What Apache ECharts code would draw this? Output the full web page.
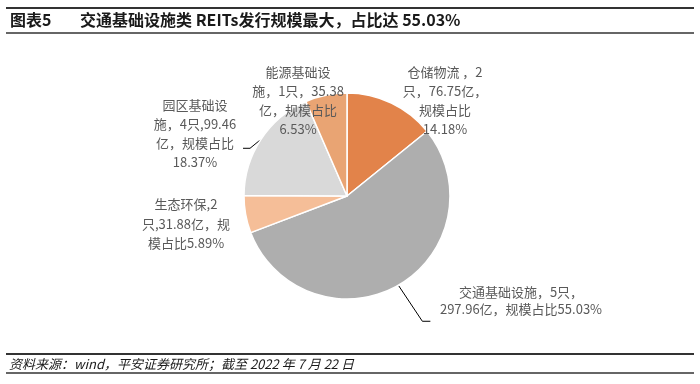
<!DOCTYPE html>
<html>
<head>
<meta charset="utf-8">
<script src="https://cdn.jsdelivr.net/npm/echarts@6/dist/echarts.min.js"></script>
<style>
html,body{margin:0;padding:0;background:#fff;}
#c{width:700px;height:384px;}
</style>
</head>
<body>
<div id="c"></div>
<script>
// ---- data ----
var categories = ['仓储物流', '交通基础设施', '生态环保', '园区基础设施', '能源基础设施'];
var counts = [2, 5, 2, 4, 1];
var values = [76.75, 297.96, 31.88, 99.46, 35.38];
var shares = ['14.18%', '55.03%', '5.89%', '18.37%', '6.53%'];
var labelTexts = [
  '仓储物流 ，2\n只，76.75亿，\n规模占比\n14.18%',
  '交通基础设施，5只，\n297.96亿，规模占比55.03%',
  '生态环保,2\n只,31.88亿，规\n模占比5.89%',
  '园区基础设\n施，4只,99.46\n亿，规模占比\n18.37%',
  '能源基础设\n施，1只，35.38\n亿，规模占比\n6.53%'
];
var titleText = '图表5';
var titleMain = '交通基础设施类 REITs发行规模最大，占比达 55.03%';
var sourceText = '资料来源：wind，平安证券研究所；截至 2022 年 7 月 22 日';

// ---- styles / layout ----
var colors = ['#E2834A', '#AEAEAE', '#F5BE98', '#D9D9D9', '#E9A473'];
var showLine = [false, true, false, true, false];
var labelPos = [
  {x: 445, y: 101, lh: 19},
  {x: 521, y: 301, lh: 17},
  {x: 186, y: 224, lh: 19.5},
  {x: 195, y: 134, lh: 19},
  {x: 298, y: 101, lh: 19}
];
var CX = 347, CY = 196, R = 103;

var total = values.reduce(function(a, b){ return a + b; }, 0);
function edgePoint(idx) {
  var before = 0;
  for (var i = 0; i < idx; i++) before += values[i];
  var mid = (before + values[idx] / 2) / total * Math.PI * 2;
  return [CX + R * Math.sin(mid), CY - R * Math.cos(mid)];
}

var data = categories.map(function(n, i){
  return {
    name: n,
    value: values[i],
    itemStyle: {color: colors[i]},
    label: {lineHeight: labelPos[i].lh},
    labelLine: {show: showLine[i]}
  };
});

var chart = echarts.init(document.getElementById('c'), null, {renderer: 'canvas'});
chart.setOption({
  animation: false,
  backgroundColor: '#fff',
  title: [
    {text: titleText, left: 10, top: 10, padding: 0, textStyle: {fontFamily: 'Noto Sans CJK SC', fontSize: 16, fontWeight: 'bold', color: '#1a1a1a', lineHeight: 20}},
    {text: titleMain, left: 80, top: 10, padding: 0, textStyle: {fontFamily: 'Noto Sans CJK SC', fontSize: 16, fontWeight: 'bold', color: '#1a1a1a', lineHeight: 20}},
    {text: sourceText, left: 9, top: 355, padding: 0, textStyle: {fontFamily: 'Noto Sans CJK SC', fontSize: 13, fontWeight: 'normal', fontStyle: 'italic', color: '#1a1a1a', lineHeight: 18}}
  ],
  graphic: [
    {type: 'line', shape: {x1: 6, y1: 8, x2: 694, y2: 8}, style: {stroke: '#333', lineWidth: 2}},
    {type: 'line', shape: {x1: 6, y1: 33, x2: 694, y2: 33}, style: {stroke: '#333', lineWidth: 1.5}},
    {type: 'line', shape: {x1: 6, y1: 354, x2: 694, y2: 354}, style: {stroke: '#333', lineWidth: 2}},
    {type: 'line', shape: {x1: 6, y1: 373, x2: 694, y2: 373}, style: {stroke: '#333', lineWidth: 1.5}}
  ],
  series: [{
    type: 'pie',
    center: [CX, CY],
    radius: [0, R],
    startAngle: 90,
    clockwise: true,
    avoidLabelOverlap: false,
    data: data,
    itemStyle: {borderColor: '#fff', borderWidth: 1.5},
    emphasis: {disabled: true},
    label: {
      show: true,
      position: 'outside',
      formatter: function(p){ return labelTexts[p.dataIndex]; },
      fontFamily: 'Noto Sans CJK SC',
      fontSize: 13,
      color: '#595959',
      align: 'center'
    },
    labelLine: {lineStyle: {color: '#000', width: 1}, length: 10, length2: 10},
    labelLayout: function(params){
      var i = params.dataIndex;
      var lp = labelPos[i];
      var res = {x: lp.x, y: lp.y, align: 'center', verticalAlign: 'middle'};
      if (showLine[i]) {
        var p0 = edgePoint(i);
        if (i === 1) {
          res.labelLinePoints = [p0, [p0[0] + 24, p0[1] + 36], [p0[0] + 32, p0[1] + 36]];
        } else {
          res.labelLinePoints = [p0, [p0[0] - 11, p0[1] + 9], [p0[0] - 18, p0[1] + 9]];
        }
      }
      return res;
    }
  }]
});
</script>
</body>
</html>
